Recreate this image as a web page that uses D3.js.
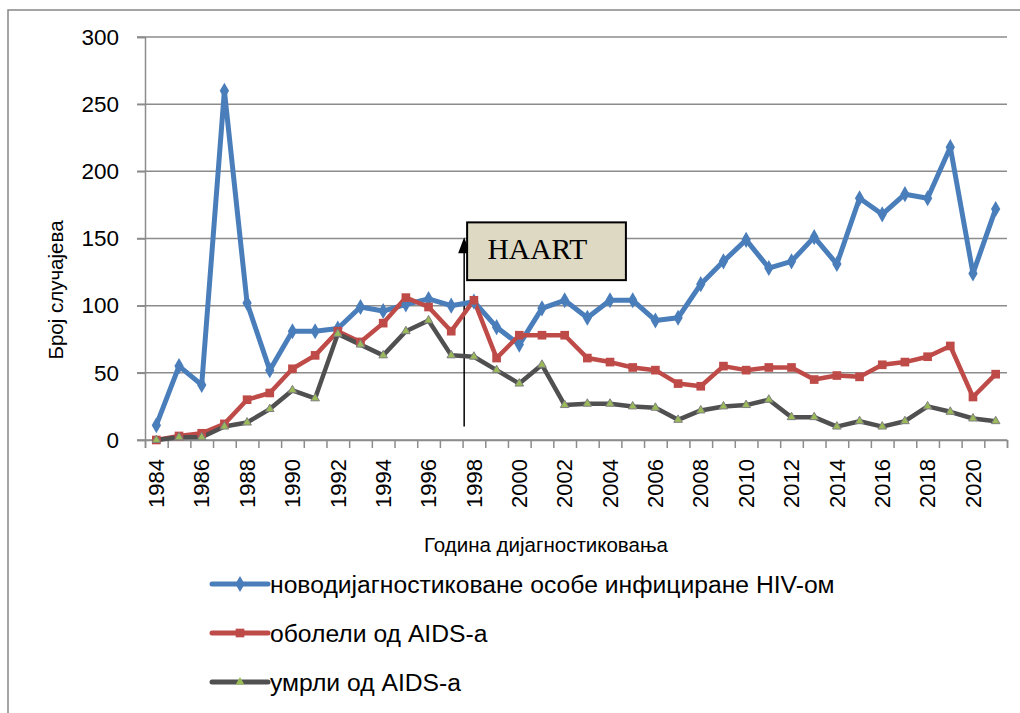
<!DOCTYPE html>
<html>
<head>
<meta charset="utf-8">
<script src="https://cdn.jsdelivr.net/npm/d3@7"></script>
<style>
  body { margin: 0; background: #fff; }
  text { font-family: "Liberation Sans", Arial, sans-serif; fill: #000; }
</style>
</head>
<body>
<svg width="1020" height="713"></svg>
<script>
// years 1984..2021
var years = [1984,1985,1986,1987,1988,1989,1990,1991,1992,1993,1994,1995,1996,1997,1998,1999,
             2000,2001,2002,2003,2004,2005,2006,2007,2008,2009,2010,2011,2012,2013,2014,2015,
             2016,2017,2018,2019,2020,2021];

var hiv    = [11,55,41,260,102,52,81,81,83,99,96,101,105,100,103,84,71,98,104,91,104,104,89,91,
              116,133,149,128,133,151,131,180,168,183,180,218,124,172];
var aids   = [0,3,5,12,30,35,53,63,81,73,87,106,99,81,104,61,78,78,78,61,58,54,52,42,
              40,55,52,54,54,45,48,47,56,58,62,70,32,49];
var deaths = [0,2,2,10,13,23,37,31,79,71,63,81,89,63,62,52,42,56,26,27,27,25,24,15,
              22,25,26,30,17,17,10,14,10,14,25,21,16,14];

var yTicks = [0,50,100,150,200,250,300];
var xLabels = years.filter(function(d){ return d % 2 === 0; });

var seriesNames = ["новодијагностиковане особе инфициране HIV-ом", "оболели од AIDS-а", "умрли од AIDS-а"];
var yTitle = "Број случајева";
var xTitle = "Година дијагностиковања";
var noteText = "HAART";

var svg = d3.select("svg");
var margin = {top: 37, left: 145, right: 13, bottom: 273};
var width = 1020 - margin.left - margin.right,
    height = 713 - margin.top - margin.bottom;

// chart border
svg.append("rect")
    .attr("x", 8).attr("y", 10)
    .attr("width", 1040).attr("height", 740)
    .attr("fill", "none")
    .attr("stroke", "#878787")
    .attr("stroke-width", 1.5);

var g = svg.append("g").attr("transform", "translate(" + margin.left + "," + margin.top + ")");

var x = d3.scaleBand().domain(years).range([0, width]).padding(0);
var xIdx = d3.scaleLinear().domain([0, years.length]).range([0, width]);
var y = d3.scaleLinear().domain([0, 300]).range([height, 0]);

function cx(d, i) { return x(years[i]) + x.bandwidth() / 2; }

// grid
g.append("g")
    .selectAll("line")
    .data(yTicks)
    .enter().append("line")
    .attr("x1", -8).attr("x2", width)
    .attr("y1", function(d){ return y(d); })
    .attr("y2", function(d){ return y(d); })
    .attr("stroke", "#8c8c8c")
    .attr("stroke-width", 1.5);

// y axis
var yAxis = g.append("g")
    .call(d3.axisLeft(y).tickValues(yTicks).tickSize(8).tickPadding(18));
yAxis.selectAll("path, line").attr("stroke", "#8c8c8c").attr("stroke-width", 1.5);
yAxis.selectAll("text").style("font-size", "22.5px").style("font-family", "Liberation Sans, Arial, sans-serif");

// x axis ticks at category edges
var xAxis = g.append("g")
    .attr("transform", "translate(0," + height + ")")
    .call(d3.axisBottom(xIdx).tickValues(d3.range(years.length + 1)).tickSize(8).tickFormat(""));
xAxis.selectAll("path, line").attr("stroke", "#8c8c8c").attr("stroke-width", 1.5);

// x labels
g.append("g")
    .selectAll("text")
    .data(xLabels)
    .enter().append("text")
    .attr("transform", function(d){
        return "translate(" + (x(d) + x.bandwidth() / 2) + "," + (height + 19) + ") rotate(-90)";
    })
    .attr("dy", "0.35em")
    .attr("text-anchor", "end")
    .style("font-size", "22px")
    .text(function(d){ return d; });

// titles
svg.append("text")
    .attr("transform", "translate(63,290) rotate(-90)")
    .attr("text-anchor", "middle")
    .style("font-size", "20.5px")
    .text(yTitle);

svg.append("text")
    .attr("x", 546).attr("y", 552)
    .attr("text-anchor", "middle")
    .style("font-size", "20.5px")
    .text(xTitle);

// HAART arrow + box
var arrowX = xIdx(14.07);
g.append("line")
    .attr("x1", arrowX).attr("x2", arrowX)
    .attr("y1", y(10)).attr("y2", y(140))
    .attr("stroke", "#000").attr("stroke-width", 1.5);
g.append("path")
    .attr("d", "M" + arrowX + "," + (y(151)) + " L" + (arrowX - 6) + "," + (y(139)) + " L" + (arrowX + 6) + "," + (y(139)) + " Z")
    .attr("fill", "#000");

var box = g.append("g");
box.append("rect")
    .attr("x", xIdx(14.2)).attr("y", y(162))
    .attr("width", xIdx(21.2) - xIdx(14.2))
    .attr("height", y(119) - y(162))
    .attr("fill", "#ddd9c3")
    .attr("stroke", "#000")
    .attr("stroke-width", 2);
box.append("text")
    .attr("x", xIdx(15.1)).attr("y", y(134.6))
    .style("font-family", "Liberation Serif, Times New Roman, serif")
    .style("font-size", "29.5px")
    .text(noteText);

// lines
var colors = ["#4a7ebb", "#be4b48", "#505050"];
var allData = [hiv, aids, deaths];

var line = d3.line()
    .x(cx)
    .y(function(d){ return y(d); });

allData.forEach(function(s, k) {
    g.append("path")
        .datum(s)
        .attr("fill", "none")
        .attr("stroke", colors[k])
        .attr("stroke-width", k === 0 ? 5 : 4.5)
        .attr("stroke-linejoin", "round")
        .attr("d", line);
});

// markers
var diamond = d3.symbol().type(d3.symbolDiamond).size(75);
var square = d3.symbol().type(d3.symbolSquare).size(75);
var tri = d3.symbol().type(d3.symbolTriangle).size(32);

g.append("g").selectAll("path").data(hiv).enter().append("path")
    .attr("transform", function(d, i){ return "translate(" + cx(d, i) + "," + y(d) + ")"; })
    .attr("d", diamond)
    .attr("fill", colors[0]);

g.append("g").selectAll("path").data(aids).enter().append("path")
    .attr("transform", function(d, i){ return "translate(" + cx(d, i) + "," + y(d) + ")"; })
    .attr("d", square)
    .attr("fill", colors[1]);

g.append("g").selectAll("path").data(deaths).enter().append("path")
    .attr("transform", function(d, i){ return "translate(" + cx(d, i) + "," + y(d) + ")"; })
    .attr("d", tri)
    .attr("fill", "#9bbb59")
    .attr("stroke", "#7f7f7f")
    .attr("stroke-width", 1);

// legend
var legend = svg.append("g");
var markers = [diamond, square, tri];
seriesNames.forEach(function(name, k) {
    var ly = 584 + k * 49;
    var item = legend.append("g").attr("transform", "translate(212," + ly + ")");
    item.append("line")
        .attr("x1", 0).attr("x2", 56)
        .attr("stroke", colors[k])
        .attr("stroke-width", 5)
        .attr("stroke-linecap", "round");
    item.append("path")
        .attr("transform", "translate(28,0)")
        .attr("d", markers[k])
        .attr("fill", k === 2 ? "#9bbb59" : colors[k]);
    item.append("text")
        .attr("x", 58).attr("dy", "0.35em")
        .style("font-size", "24.7px")
        .text(name);
});
</script>
</body>
</html>
